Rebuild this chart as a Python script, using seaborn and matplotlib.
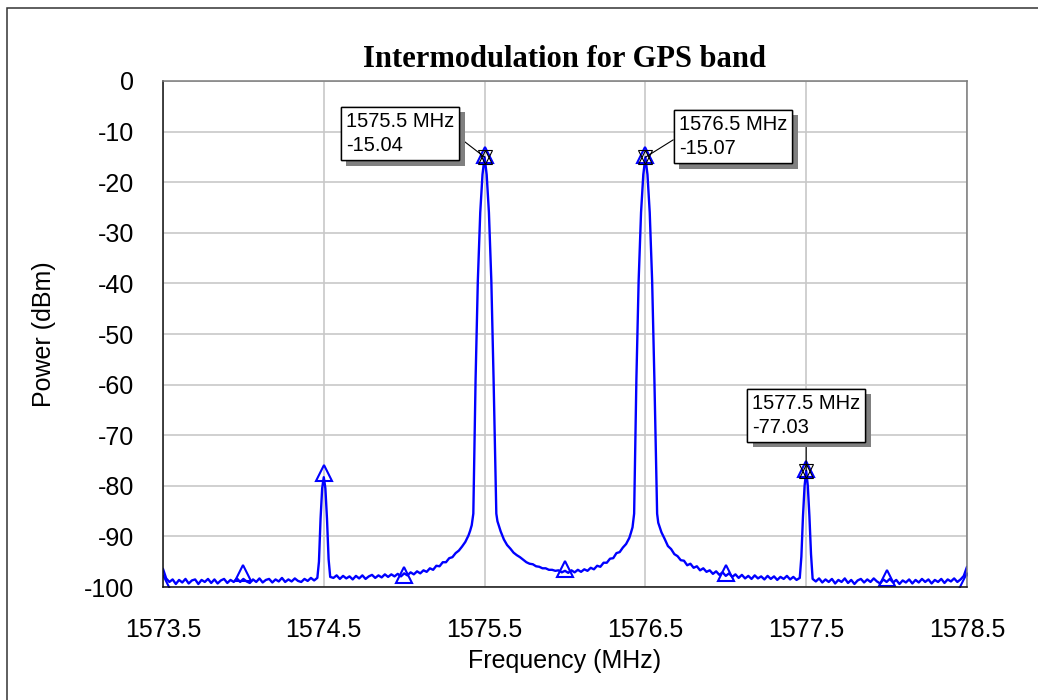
import numpy as np
import pandas as pd
import matplotlib
matplotlib.use("Agg")
import matplotlib.pyplot as plt
import matplotlib.patheffects as pe
from matplotlib.patches import Rectangle
import seaborn as sns

# spectrum trace (MHz, dBm)
freq_mhz = [
    1573.50, 1573.52, 1573.54, 1573.56, 1573.58, 1573.60, 1573.62, 1573.64, 1573.66, 1573.68,
    1573.70, 1573.72, 1573.74, 1573.76, 1573.78, 1573.80, 1573.82, 1573.84, 1573.86, 1573.88,
    1573.90, 1573.92, 1573.94, 1573.96, 1573.98, 1574.00, 1574.02, 1574.04, 1574.06, 1574.08,
    1574.10, 1574.12, 1574.14, 1574.16, 1574.18, 1574.20, 1574.22, 1574.24, 1574.26, 1574.28,
    1574.30, 1574.32, 1574.34, 1574.36, 1574.38, 1574.40, 1574.42, 1574.44, 1574.46,
    1574.47, 1574.48, 1574.49, 1574.50, 1574.51, 1574.52, 1574.53, 1574.54,
    1574.56, 1574.58, 1574.60, 1574.62, 1574.64, 1574.66, 1574.68, 1574.70, 1574.72, 1574.74,
    1574.76, 1574.78, 1574.80, 1574.82, 1574.84, 1574.86, 1574.88, 1574.90, 1574.92, 1574.94,
    1574.96, 1574.98, 1575.00, 1575.02, 1575.04, 1575.06, 1575.08, 1575.10, 1575.12, 1575.14,
    1575.16, 1575.18, 1575.20, 1575.22, 1575.24, 1575.26, 1575.28, 1575.30, 1575.32, 1575.34,
    1575.36, 1575.38, 1575.40, 1575.41, 1575.42, 1575.43,
    1575.444, 1575.458, 1575.473, 1575.487, 1575.500, 1575.513, 1575.527, 1575.542, 1575.556, 1575.573,
    1575.58, 1575.60, 1575.62, 1575.64, 1575.66, 1575.68, 1575.70, 1575.72, 1575.74, 1575.76,
    1575.78, 1575.80, 1575.82, 1575.84, 1575.86, 1575.88, 1575.90, 1575.92, 1575.94, 1575.96,
    1575.98, 1576.00, 1576.02, 1576.04, 1576.06, 1576.08, 1576.10, 1576.12, 1576.14, 1576.16,
    1576.18, 1576.20, 1576.22, 1576.24, 1576.26, 1576.28, 1576.30, 1576.32, 1576.34, 1576.36,
    1576.38, 1576.40, 1576.41, 1576.42, 1576.43,
    1576.444, 1576.458, 1576.473, 1576.487, 1576.500, 1576.513, 1576.527, 1576.542, 1576.556, 1576.573,
    1576.58, 1576.60, 1576.62, 1576.64, 1576.66, 1576.68, 1576.70, 1576.72, 1576.74, 1576.76,
    1576.78, 1576.80, 1576.82, 1576.84, 1576.86, 1576.88, 1576.90, 1576.92, 1576.94, 1576.96,
    1576.98, 1577.00, 1577.02, 1577.04, 1577.06, 1577.08, 1577.10, 1577.12, 1577.14, 1577.16,
    1577.18, 1577.20, 1577.22, 1577.24, 1577.26, 1577.28, 1577.30, 1577.32, 1577.34, 1577.36,
    1577.38, 1577.40, 1577.42, 1577.44, 1577.46,
    1577.47, 1577.48, 1577.49, 1577.50, 1577.51, 1577.52, 1577.53, 1577.54,
    1577.56, 1577.58, 1577.60, 1577.62, 1577.64, 1577.66, 1577.68, 1577.70, 1577.72, 1577.74,
    1577.76, 1577.78, 1577.80, 1577.82, 1577.84, 1577.86, 1577.88, 1577.90, 1577.92, 1577.94,
    1577.96, 1577.98, 1578.00, 1578.02, 1578.04, 1578.06, 1578.08, 1578.10, 1578.12, 1578.14,
    1578.16, 1578.18, 1578.20, 1578.22, 1578.24, 1578.26, 1578.28, 1578.30, 1578.32, 1578.34,
    1578.36, 1578.38, 1578.40, 1578.42, 1578.44, 1578.46, 1578.48, 1578.50,
]
power_dbm = [
    -96.4, -98.3, -99.0, -98.5, -99.4, -98.6, -99.1, -98.4, -99.3, -98.7,
    -98.5, -99.4, -98.6, -99.0, -98.4, -99.2, -98.5, -99.3, -98.7, -98.4,
    -99.2, -98.6, -99.0, -98.3, -99.0, -98.4, -98.9, -99.2, -98.5, -99.0,
    -98.3, -99.1, -98.6, -98.4, -99.1, -98.5, -98.9, -98.2, -99.0, -98.5,
    -98.9, -98.3, -98.8, -99.0, -98.4, -98.8, -98.2, -98.7, -98.2,
    -95.0, -86.5, -80.5, -78.3, -80.5, -86.5, -94.5, -98.0,
    -98.2, -97.7, -98.4, -97.8, -98.3, -97.9, -98.5, -97.8, -98.3, -97.7,
    -98.4, -97.9, -97.6, -98.2, -97.7, -98.1, -97.5, -98.0, -97.5, -97.9,
    -97.4, -97.9, -97.3, -97.7, -97.1, -97.5, -96.9, -97.3, -96.7, -97.0,
    -96.3, -96.6, -95.8, -95.9, -95.1, -95.1, -94.3, -94.1, -93.3, -92.8,
    -92.0, -91.1, -89.8, -88.9, -87.8, -85.5,
    -59.0, -39.5, -26.0, -18.5, -15.04, -18.5, -26.0, -39.5, -59.0, -85.5,
    -87.0, -89.0, -90.6, -91.7, -92.4, -93.2, -93.7, -94.1, -94.6, -95.1,
    -95.4, -95.5, -95.9, -96.0, -96.3, -96.3, -96.6, -96.6, -96.8, -96.7,
    -97.1, -96.8, -97.2, -96.7, -97.1, -96.6, -97.0, -96.5, -96.8, -96.2,
    -96.5, -95.8, -96.0, -95.2, -95.2, -94.4, -94.3, -93.3, -93.1, -92.2,
    -91.5, -90.3, -89.3, -88.2, -85.5,
    -59.0, -39.5, -26.0, -18.5, -15.07, -18.5, -26.0, -39.5, -59.0, -85.5,
    -87.3, -89.2, -90.5, -91.9, -92.5, -93.5, -93.9, -94.7, -94.8, -95.7,
    -95.4, -96.2, -95.9, -96.7, -96.3, -97.0, -96.7, -97.4, -96.9, -97.6,
    -97.1, -97.8, -97.3, -98.0, -97.5, -98.2, -97.6, -98.3, -97.8, -98.4,
    -97.7, -98.3, -97.9, -98.5, -97.8, -98.4, -97.9, -98.6, -98.0, -98.4,
    -97.8, -98.5, -98.0, -98.6, -98.2,
    -94.0, -86.0, -80.0, -77.03, -80.0, -86.0, -93.5, -98.4,
    -98.9, -98.3, -99.1, -98.5, -99.0, -98.4, -99.3, -98.6, -99.0, -98.3,
    -99.2, -98.6, -99.4, -98.7, -98.4, -99.1, -98.5, -99.0, -98.3, -98.9,
    -99.3, -98.5, -99.0, -98.4, -99.1, -98.6, -99.4, -98.7, -99.1, -98.5,
    -99.3, -98.6, -99.1, -98.4, -99.0, -98.5, -99.3, -98.6, -99.0, -98.4,
    -99.2, -98.5, -98.9, -98.3, -99.0, -98.5, -97.8, -96.0,
]

# trace symbols every 0.5 MHz
sym_freq = [1573.5, 1574.0, 1574.5, 1575.0, 1575.5, 1576.0, 1576.5, 1577.0, 1577.5, 1578.0, 1578.5]
sym_power = [-99.3, -97.2, -77.5, -97.6, -14.6, -96.4, -14.6, -97.2, -76.6, -98.2, -98.8]

# marker read-outs
mk_freq = [1575.5, 1576.5, 1577.5]
mk_power = [-15.04, -15.07, -77.03]
mk_text = ["1575.5 MHz\n-15.04", "1576.5 MHz\n-15.07", "1577.5 MHz\n-77.03"]

sns.set_theme(style="whitegrid")
plt.rcParams['font.family'] = ['Liberation Sans', 'DejaVu Sans']
plt.rcParams['axes.unicode_minus'] = False
plt.rcParams['text.color'] = 'black'

df = pd.DataFrame({"Frequency": freq_mhz, "Power": power_dbm})

fig = plt.figure(figsize=(10.38, 7), dpi=100)
ax = fig.add_axes([0.157, 0.1614, 0.7746, 0.7229])

sns.lineplot(data=df, x="Frequency", y="Power", ax=ax, color="#0000ff",
             lw=1.7, estimator=None, sort=False)
ax.plot(sym_freq, sym_power, ls="none", marker="^", ms=11.5, mfc="none",
        mec="#0000ff", mew=1.5)
ax.plot(mk_freq, mk_power, ls="none", marker="^", ms=10, mfc="none",
        mec="black", mew=0.8)
ax.plot(mk_freq, mk_power, ls="none", marker="v", ms=10, mfc="none",
        mec="black", mew=0.8)

# annotation boxes: offset (points), alignment, leader start on box
box_pos = [((-22, 17), "right", (1, 0.5)),
           ((24, 15), "left", (0, 0.5)),
           ((0, 40), "center", (0.5, 0))]
for f, p, t, (off, ha, rp) in zip(mk_freq, mk_power, mk_text, box_pos):
    ann = ax.annotate(t, xy=(f, p), xytext=off, textcoords="offset points",
                      ha=ha, va="center", multialignment="left", fontsize=14.5,
                      linespacing=1.35, color="black",
                      bbox=dict(boxstyle="square,pad=0.25", fc="white", ec="black", lw=1),
                      arrowprops=dict(arrowstyle="-", color="black", lw=0.8,
                                      relpos=rp, shrinkA=0, shrinkB=0),
                      zorder=5)
    ann.get_bbox_patch().set_path_effects(
        [pe.withSimplePatchShadow(offset=(4, -4), shadow_rgbFace="#808080", alpha=1.0),
         pe.Normal()])

ax.set_xlim(1573.5, 1578.5)
ax.set_ylim(-100, 0)
ax.set_xticks([1573.5, 1574.5, 1575.5, 1576.5, 1577.5, 1578.5])
ax.set_xticklabels(["1573.5", "1574.5", "1575.5", "1576.5", "1577.5", "1578.5"])
ax.set_yticks(np.arange(-100, 1, 10))
ax.set_yticklabels([str(v) for v in range(-100, 1, 10)])
ax.tick_params(axis="x", length=0, pad=22, labelsize=18, colors="black")
ax.tick_params(axis="y", length=0, pad=21, labelsize=18, colors="black")
ax.grid(True, color="#c8c8c8", lw=1.2)

ax.set_xlabel("Frequency (MHz)", fontsize=18, labelpad=5, color="black")
ax.set_ylabel("Power (dBm)", fontsize=18, labelpad=20, color="black")
ax.set_title("Intermodulation for GPS band", fontsize=22, fontweight="bold",
             family=["Liberation Serif", "DejaVu Serif"], pad=10, color="black")

for side in ["left", "bottom"]:
    ax.spines[side].set_color("#101010")
    ax.spines[side].set_linewidth(1.1)
for side in ["top", "right"]:
    ax.spines[side].set_color("#7a7a7a")
    ax.spines[side].set_linewidth(1.1)

# outer frame of the exported plot window
fig.patches.append(Rectangle((7 / 1038, -0.02), 1.05, 692 / 700 + 0.02,
                             transform=fig.transFigure, fill=False,
                             ec="#333333", lw=1.1, zorder=-1))

fig.savefig("out.png", dpi=100)
